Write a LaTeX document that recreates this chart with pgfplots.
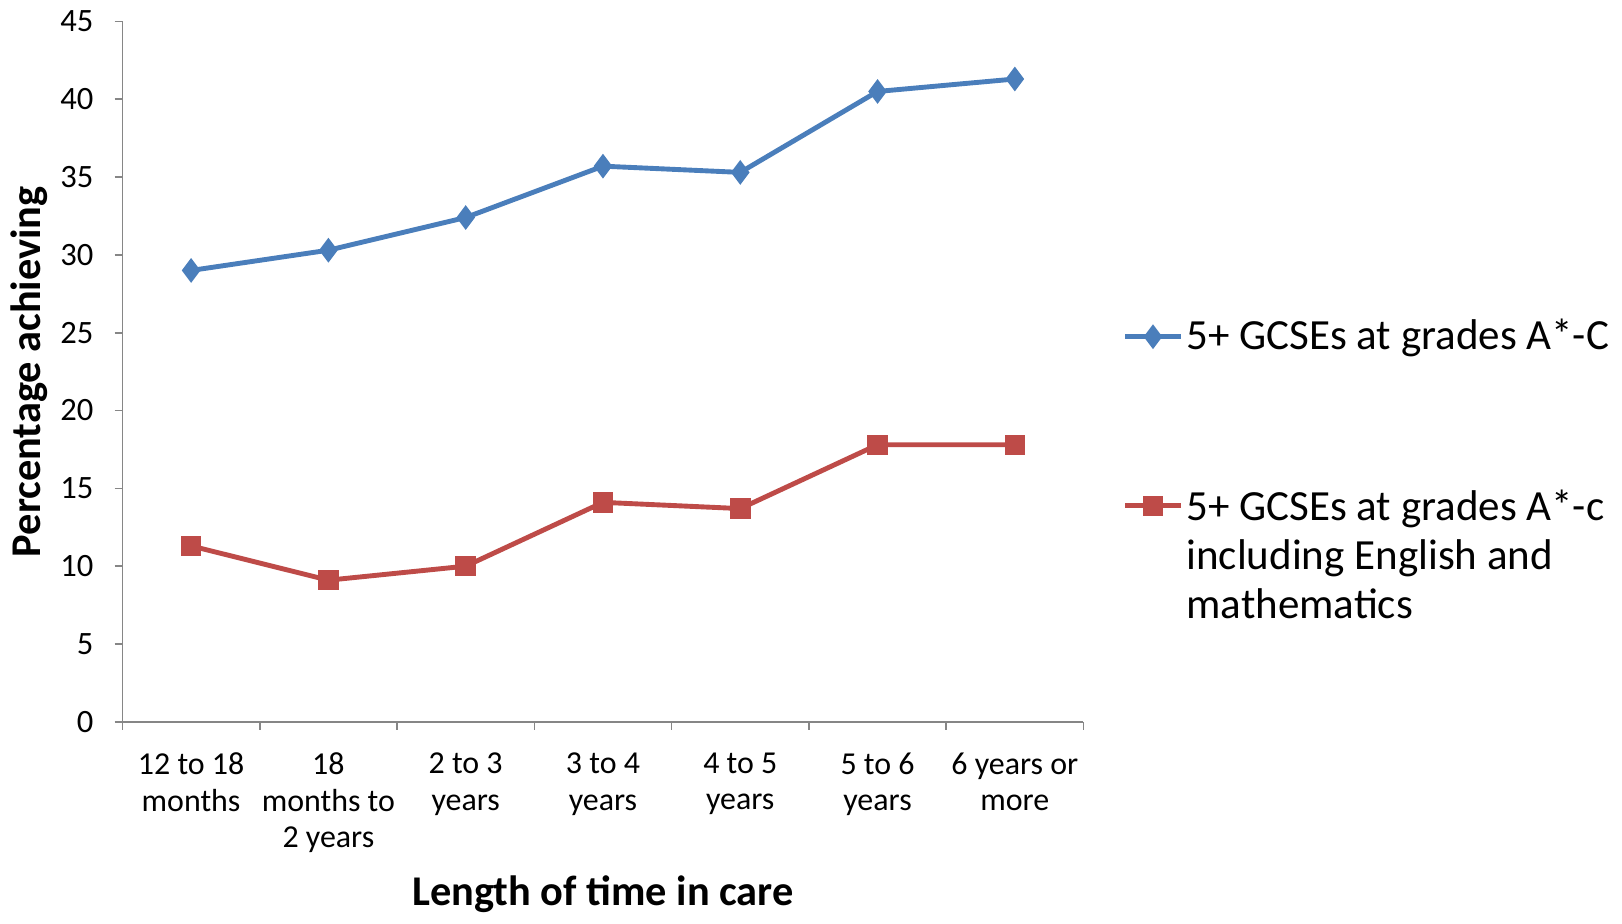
\documentclass[border=0pt]{standalone}
\usepackage{pgfplots}
\pgfplotsset{compat=1.18}
\usepackage{fontspec}
\setmainfont{Carlito}

\definecolor{serA}{HTML}{4A7EBB}
\definecolor{serB}{HTML}{BE4B48}
\definecolor{axgray}{HTML}{868686}

\begin{document}
\begin{tikzpicture}
\begin{axis}[
    scale only axis,
    width=295pt, height=215pt,
    xmin=-0.5, xmax=6.5,
    ymin=0, ymax=45,
    ytick={0,5,...,45},
    xtick={-0.5,0.5,...,6.5},
    x tick label as interval=true,
    xticklabels={12 to 18\\months, 18\\months to\\2 years, 2 to 3\\years, 3 to 4\\years, 4 to 5\\years, 5 to 6\\years, 6 years or\\more},
    xticklabel style={align=center, font=\fontsize{9.8}{11.3}\selectfont, yshift=-3.5pt},
    yticklabel style={font=\fontsize{10}{12}\selectfont, xshift=-3pt},
    /pgf/number format/assume math mode=true,
    axis x line*=bottom, axis y line*=left,
    axis line style={axgray, line width=0.5pt},
    every tick/.style={axgray, line width=0.5pt},
    tick align=outside,
    major tick length=2.4pt,
    xlabel={\textbf{Length of time in care}},
    ylabel={\textbf{Percentage achieving}},
    xlabel style={font=\fontsize{13}{16}\selectfont, yshift=0pt},
    ylabel style={font=\fontsize{13}{16}\selectfont},
    ylabel shift=-3pt,
    legend style={draw=none, at={(rel axis cs:1.03,0.59)}, anchor=north west,
        font=\fontsize{13.2}{15}\selectfont, row sep=38.5pt,
        nodes={inner sep=1pt}},
    legend cell align=left,
]
\addplot[serA, line width=1.5pt, mark=diamond*, mark size=3.4pt, mark options={fill=serA, line width=0.5pt}]
coordinates {
    (0, 29.0) (1, 30.3) (2, 32.4) (3, 35.7) (4, 35.3) (5, 40.5) (6, 41.3)
};
\addlegendentry{5+ GCSEs at grades A*-C}
\addplot[serB, line width=1.5pt, mark=square*, mark size=2.9pt, mark options={fill=serB, line width=0.5pt}]
coordinates {
    (0, 11.3) (1, 9.1) (2, 10.0) (3, 14.1) (4, 13.7) (5, 17.8) (6, 17.8)
};
\addlegendentry{\begin{tabular}[t]{@{}l@{}}5+ GCSEs at grades A*-c\\including English and\\mathematics\end{tabular}}
\end{axis}
\end{tikzpicture}
\end{document}
